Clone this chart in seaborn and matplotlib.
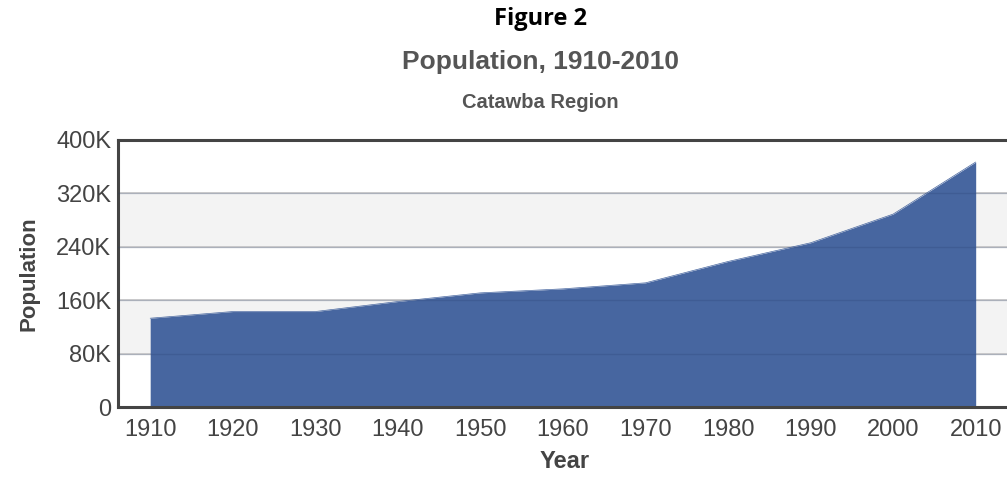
import matplotlib
matplotlib.use("Agg")
import matplotlib.pyplot as plt
import seaborn as sns
import pandas as pd

# --- data ---
years = [1910, 1920, 1930, 1940, 1950, 1960, 1970, 1980, 1990, 2000, 2010]
population = [133000, 143000, 143000, 158000, 171000, 177000, 186000, 218000, 246000, 289000, 367000]
y_ticks = [0, 80000, 160000, 240000, 320000, 400000]
y_labels = ["0", "80K", "160K", "240K", "320K", "400K"]

df = pd.DataFrame({"Year": years, "Population": population})

sns.set_theme(style="white")
plt.rcParams["font.family"] = ["Liberation Sans", "DejaVu Sans"]

fig = plt.figure(figsize=(10.07, 4.82), dpi=100)
ax = fig.add_axes([118 / 1007, 75 / 482, 894 / 1007, 267 / 482])

# alternating bands + grid
for i in range(len(y_ticks) - 1):
    if i % 2 == 1:
        ax.axhspan(y_ticks[i], y_ticks[i + 1], color="#f3f3f3", zorder=0)
for t in y_ticks[1:-1]:
    ax.axhline(t, color="#c8c8c8", lw=1.2, zorder=1)

sns.lineplot(data=df, x="Year", y="Population", ax=ax, color="#4766a0", lw=0.5, zorder=2)
ax.fill_between(df["Year"], df["Population"], color="#4766a0", lw=0, zorder=2)
for t in y_ticks[1:-1]:
    ax.axhline(t, color="#1f3566", lw=1.0, alpha=0.2, zorder=3)

ax.set_xlim(1906.1, 2014.4)
ax.set_ylim(0, 400000)
ax.set_xticks(years)
ax.set_xticklabels([str(y) for y in years], fontsize=17, color="#444444")
ax.set_yticks(y_ticks)
ax.set_yticklabels(y_labels, fontsize=17, color="#444444")
ax.tick_params(axis="x", length=0, pad=9)
ax.tick_params(axis="y", length=0, pad=5)

for s in ["left", "top", "bottom", "right"]:
    ax.spines[s].set_color("#444444")
    ax.spines[s].set_linewidth(2.2)

ax.set_xlabel("Year", fontsize=17, fontweight="bold", color="#444444", labelpad=6)
ax.set_ylabel("Population", fontsize=16, fontweight="bold", color="#444444", labelpad=12)

fig.text(540 / 1007, 1 - 19 / 482, "Figure 2", ha="center", va="center",
         fontsize=17, fontweight="bold", color="black", family=["Open Sans", "DejaVu Sans"])
fig.text(541 / 1007, 1 - 62 / 482, "Population, 1910-2010", ha="center", va="center",
         fontsize=19, fontweight="bold", color="#555555")
fig.text(540 / 1007, 1 - 103 / 482, "Catawba Region", ha="center", va="center",
         fontsize=14.5, fontweight="bold", color="#555555")

fig.savefig("out.png", dpi=100)
